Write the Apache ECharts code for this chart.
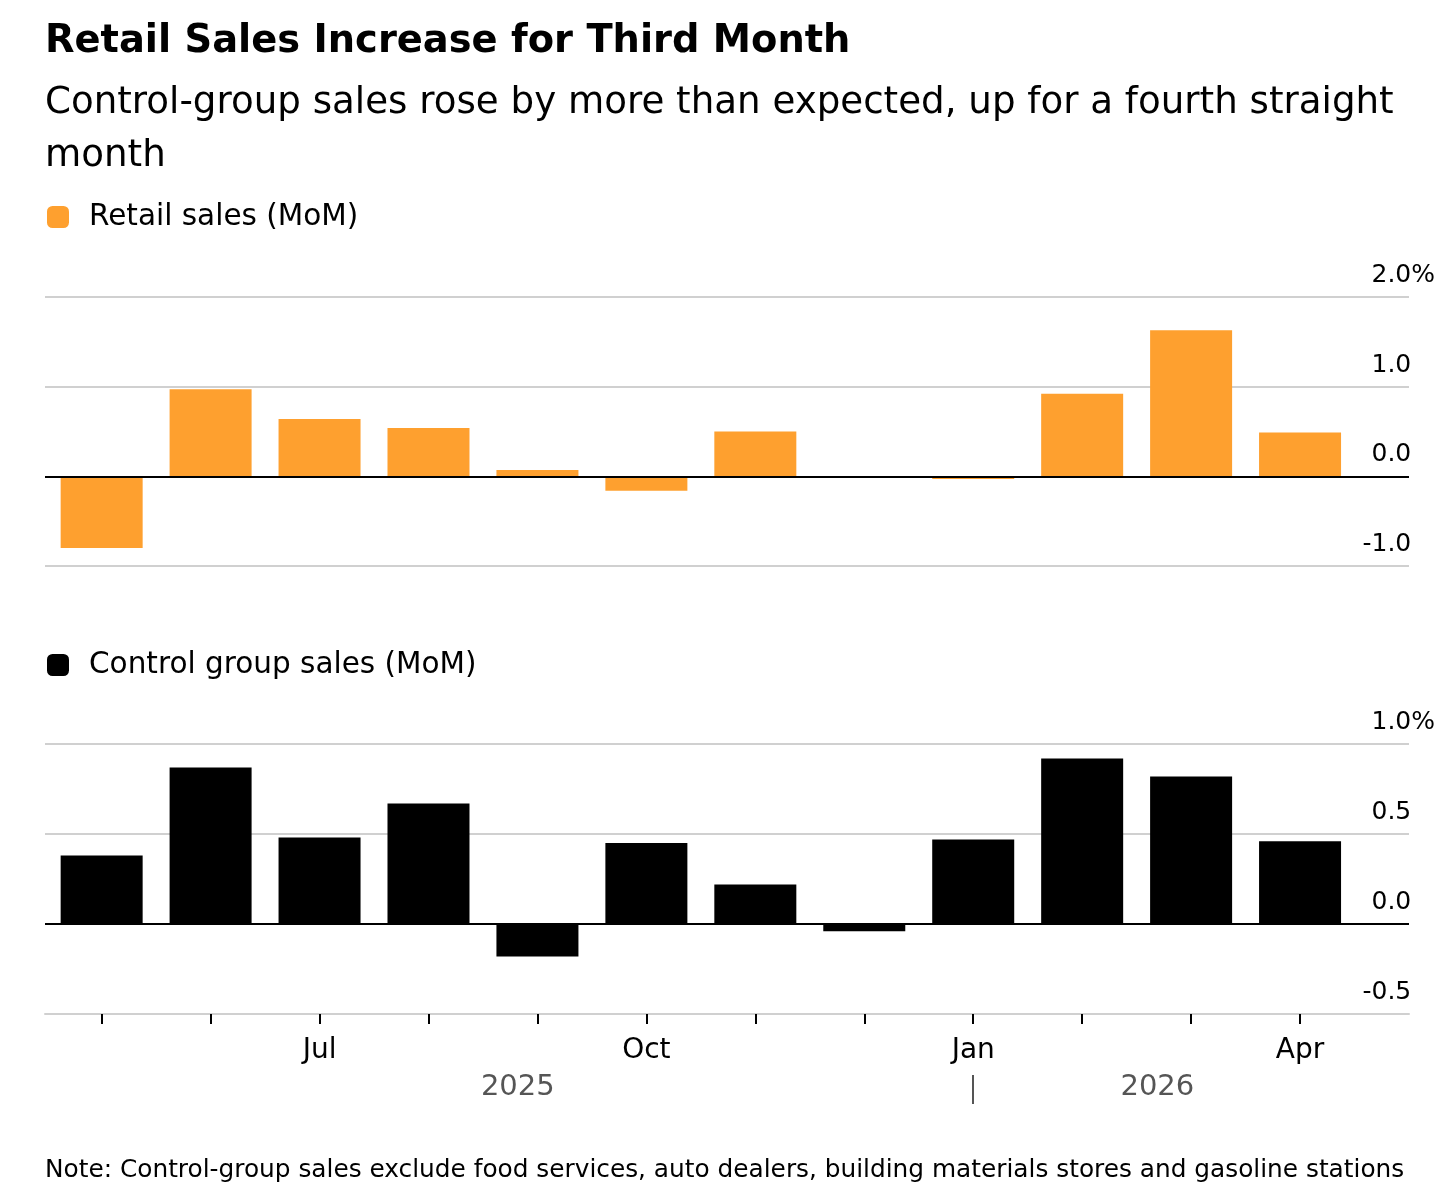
<!DOCTYPE html>
<html>
<head>
<meta charset="utf-8">
<script src="https://cdn.jsdelivr.net/npm/echarts@6/dist/echarts.min.js"></script>
<style>
  html, body { margin: 0; padding: 0; background: #fff; }
  #main { width: 1448px; height: 1188px; }
</style>
</head>
<body>
<div id="main"></div>
<script>
// months May 2025 .. Apr 2026
var months = ['May', 'Jun', 'Jul', 'Aug', 'Sep', 'Oct', 'Nov', 'Dec', 'Jan', 'Feb', 'Mar', 'Apr'];
var retailSales = [-0.8, 0.97, 0.64, 0.54, 0.07, -0.16, 0.5, 0.0, -0.03, 0.92, 1.63, 0.49];
var controlSales = [0.38, 0.87, 0.48, 0.67, -0.18, 0.45, 0.22, -0.04, 0.47, 0.92, 0.82, 0.46];
var shownMonths = ['Jul', 'Oct', 'Jan', 'Apr'];
var yearLabels = ['2025', '2026'];

var FONT = 'DejaVu Sans';
var ORANGE = '#fea02f';
var GRID_GREY = '#d0d0d0';

var chart = echarts.init(document.getElementById('main'));

// index positions for the bars
var retailData = retailSales.map(function (v, i) { return [i, v]; });
var controlData = controlSales.map(function (v, i) { return [i, v]; });

function yLabel(max) {
    return function (v) {
        var s = v.toFixed(1);
        return Math.abs(v - max) < 1e-9 ? '{v|' + s + '}{p|%}' : '{v|' + s + '}{h|%}';
    };
}

var yLabelStyle = function (max) {
    return {
        inside: false,
        margin: 26,
        align: 'right',
        verticalAlign: 'bottom',
        padding: [0, 0, 9, 0],
        formatter: yLabel(max),
        rich: {
            v: { fontFamily: FONT, fontSize: 25, color: '#000' },
            p: { fontFamily: FONT, fontSize: 25, color: '#000' },
            h: { fontFamily: FONT, fontSize: 25, color: 'rgba(0,0,0,0)' }
        }
    };
};

var zeroLine = {
    silent: true,
    symbol: 'none',
    label: { show: false },
    lineStyle: { color: '#000', width: 2, type: 'solid' },
    data: [{ yAxis: 0 }]
};

var option = {
    backgroundColor: '#fff',
    animation: false,
    title: [
        {
            text: 'Retail Sales Increase for Third Month',
            left: 45, top: 23,
            padding: 0,
            textStyle: { fontFamily: FONT, fontSize: 38.4, fontWeight: 'bold', color: '#000' }
        },
        {
            text: 'Control-group sales rose by more than expected, up for a fourth straight\nmonth',
            left: 45, top: 77,
            padding: 0,
            textStyle: { fontFamily: FONT, fontSize: 37.2, fontWeight: 'normal', color: '#000', lineHeight: 53 }
        },
        {
            text: 'Note: Control-group sales exclude food services, auto dealers, building materials stores and gasoline stations',
            left: 45, top: 1158,
            padding: 0,
            textStyle: { fontFamily: FONT, fontSize: 24.8, fontWeight: 'normal', color: '#000' }
        }
    ],
    legend: [
        {
            data: ['Retail sales (MoM)'],
            left: 47, top: 202,
            padding: 0,
            icon: 'roundRect',
            itemWidth: 22, itemHeight: 22,
            selectedMode: false,
            textStyle: { fontFamily: FONT, fontSize: 29.5, color: '#000', padding: [0, 0, 0, 15] }
        },
        {
            data: ['Control group sales (MoM)'],
            left: 47, top: 650,
            padding: 0,
            icon: 'roundRect',
            itemWidth: 22, itemHeight: 22,
            selectedMode: false,
            textStyle: { fontFamily: FONT, fontSize: 29.5, color: '#000', padding: [0, 0, 0, 15] }
        }
    ],
    grid: [
        { left: 45, right: 39, top: 297, height: 269 },
        { left: 45, right: 39, top: 744, height: 270 }
    ],
    xAxis: [
        {
            gridIndex: 0, type: 'value', min: -0.52, max: 12,
            show: false
        },
        {
            gridIndex: 1, type: 'value', min: -0.52, max: 12,
            axisLine: { show: true, onZero: false, lineStyle: { color: GRID_GREY, width: 2 } },
            axisTick: {
                show: true, length: 10,
                customValues: months.map(function (m, i) { return i; }),
                lineStyle: { color: '#000', width: 2 }
            },
            splitLine: { show: false },
            axisLabel: {
                margin: 23,
                customValues: months.map(function (m, i) { return i; })
                    .filter(function (i) { return shownMonths.indexOf(months[i]) >= 0; }),
                formatter: function (v) { return months[Math.round(v)]; },
                fontFamily: FONT, fontSize: 28, color: '#000'
            }
        },
        {
            gridIndex: 1, type: 'value', min: -0.52, max: 12,
            position: 'bottom', offset: 61,
            axisLine: { show: false, onZero: false },
            axisTick: {
                show: true, length: 29,
                customValues: [months.indexOf('Jan')],
                lineStyle: { color: '#555', width: 2 }
            },
            splitLine: { show: false },
            axisLabel: {
                margin: -2,
                customValues: [3.82, 9.69],
                formatter: function (v) { return v < months.indexOf('Jan') ? yearLabels[0] : yearLabels[1]; },
                fontFamily: FONT, fontSize: 29, color: '#555'
            }
        }
    ],
    yAxis: [
        {
            gridIndex: 0, type: 'value', min: -1, max: 2, interval: 1,
            position: 'right',
            axisLine: { show: false }, axisTick: { show: false },
            splitLine: { lineStyle: { color: GRID_GREY, width: 2 } },
            axisLabel: yLabelStyle(2)
        },
        {
            gridIndex: 1, type: 'value', min: -0.5, max: 1, interval: 0.5,
            position: 'right',
            axisLine: { show: false }, axisTick: { show: false },
            splitLine: { lineStyle: { color: GRID_GREY, width: 2 } },
            axisLabel: yLabelStyle(1)
        }
    ],
    series: [
        {
            name: 'Retail sales (MoM)',
            type: 'bar',
            xAxisIndex: 0, yAxisIndex: 0,
            barWidth: 82,
            itemStyle: { color: ORANGE },
            data: retailData,
            markLine: zeroLine
        },
        {
            name: 'Control group sales (MoM)',
            type: 'bar',
            xAxisIndex: 1, yAxisIndex: 1,
            barWidth: 82,
            itemStyle: { color: '#000' },
            data: controlData,
            markLine: zeroLine
        }
    ]
};

chart.setOption(option);
</script>
</body>
</html>
